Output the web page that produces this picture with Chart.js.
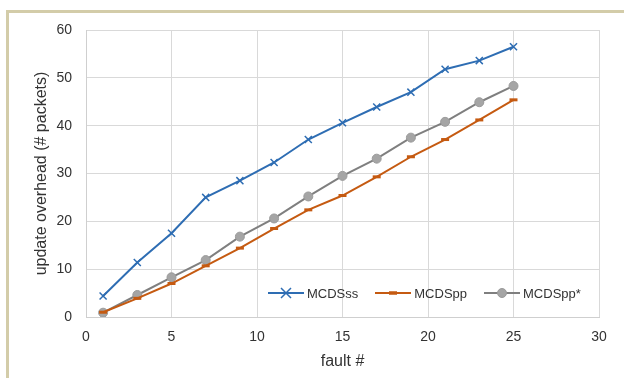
<!DOCTYPE html>
<html>
<head>
<meta charset="utf-8">
<script src="https://cdn.jsdelivr.net/npm/chart.js@4.4.1/dist/chart.umd.min.js"></script>
<style>
  body { margin: 0; background: #fff; font-family: 'Liberation Sans', Arial, sans-serif; }
  #frame { position: absolute; left: 6px; top: 10px; width: 618px; height: 368px;
           border-top: 3px solid #d3cca9; border-left: 3px solid #d3cca9; box-sizing: border-box; }
  #chartBox { position: absolute; left: 0; top: 0; width: 624px; height: 378px; }
  #legend { position: absolute; left: 268px; top: 284px; display: flex; gap: 17px; font-size: 13px; color: #333; }
  #legend .item { display: flex; align-items: center; }
  #legend svg { margin-right: 3px; }
</style>
</head>
<body>
<div id="frame"></div>
<div id="chartBox"><canvas id="faultChart" width="624" height="378"></canvas></div>
<div id="legend"></div>

<script>
// fault numbers where points are plotted
const faults = [1, 3, 5, 7, 9, 11, 13, 15, 17, 19, 21, 23, 25];

// update overhead (# packets)
const mcdsSs     = [4.4, 11.4, 17.5, 25.0, 28.5, 32.3, 37.1, 40.6, 43.9, 47.0, 51.8, 53.6, 56.5];
const mcdsPp     = [1.0, 3.9, 7.0, 10.7, 14.4, 18.5, 22.4, 25.4, 29.3, 33.5, 37.1, 41.2, 45.4];
const mcdsPpStar = [0.9, 4.6, 8.3, 11.9, 16.8, 20.6, 25.2, 29.5, 33.1, 37.5, 40.8, 44.9, 48.3];

const seriesNames = ['MCDSss', 'MCDSpp', 'MCDSpp*'];

const toPoints = vals => vals.map((v, i) => ({ x: faults[i], y: v }));

const datasets = [
  {
    label: seriesNames[0], data: toPoints(mcdsSs),
    borderColor: '#2e6db3', backgroundColor: '#2e6db3', borderWidth: 2,
    pointStyle: 'crossRot', pointRadius: 5, pointBorderWidth: 1.5
  },
  {
    label: seriesNames[1], data: toPoints(mcdsPp),
    borderColor: '#c55a11', backgroundColor: '#c55a11', borderWidth: 2,
    pointStyle: 'line', pointRadius: 4, pointBorderWidth: 3
  },
  {
    label: seriesNames[2], data: toPoints(mcdsPpStar),
    borderColor: '#7f7f7f', backgroundColor: '#a5a5a5', borderWidth: 2,
    pointStyle: 'circle', pointRadius: 4.5, pointBorderWidth: 1, pointBorderColor: '#9a9a9a'
  }
];

const tickFont = { family: 'Liberation Sans', size: 14 };
const titleFont = { family: 'Liberation Sans', size: 16 };

new Chart(document.getElementById('faultChart').getContext('2d'), {
  type: 'line',
  data: { datasets: datasets },
  options: {
    responsive: false,
    animation: false,
    layout: { padding: { top: 30, right: 25, left: 0, bottom: 0 } },
    elements: { line: { tension: 0 } },
    plugins: { legend: { display: false }, tooltip: { enabled: false } },
    scales: {
      x: {
        type: 'linear', min: 0, max: 30,
        ticks: { stepSize: 5, font: tickFont, color: '#333', padding: 12 },
        grid: { color: '#d9d9d9', drawTicks: false },
        border: { color: '#cfcfcf' },
        title: { display: true, text: 'fault #', font: titleFont, color: '#333', padding: { bottom: 7 } },
        afterFit: scale => { scale.height = 61; }
      },
      y: {
        min: 0, max: 60,
        ticks: { stepSize: 10, font: tickFont, color: '#333', padding: 14 },
        grid: { color: '#d9d9d9', drawTicks: false },
        border: { color: '#cfcfcf' },
        title: { display: true, text: 'update overhead (# packets)', font: titleFont, color: '#333', padding: { top: 32 } },
        afterFit: scale => { scale.width = 86; }
      }
    }
  }
});

// legend inside the plot area, built from the datasets
const legendEl = document.getElementById('legend');
datasets.forEach(ds => {
  let marker = '';
  if (ds.pointStyle === 'crossRot') {
    marker = `<path d="M13 4 L23 14 M23 4 L13 14" stroke="${ds.borderColor}" stroke-width="1.5"/>`;
  } else if (ds.pointStyle === 'line') {
    marker = `<path d="M14 9 L22 9" stroke="${ds.borderColor}" stroke-width="3.5"/>`;
  } else {
    marker = `<circle cx="18" cy="9" r="4.5" fill="${ds.backgroundColor}" stroke="#9a9a9a"/>`;
  }
  const item = document.createElement('div');
  item.className = 'item';
  item.innerHTML = `<svg width="36" height="18"><path d="M0 9 L36 9" stroke="${ds.borderColor}" stroke-width="2"/>${marker}</svg><span>${ds.label}</span>`;
  legendEl.appendChild(item);
});
</script>
</body>
</html>
